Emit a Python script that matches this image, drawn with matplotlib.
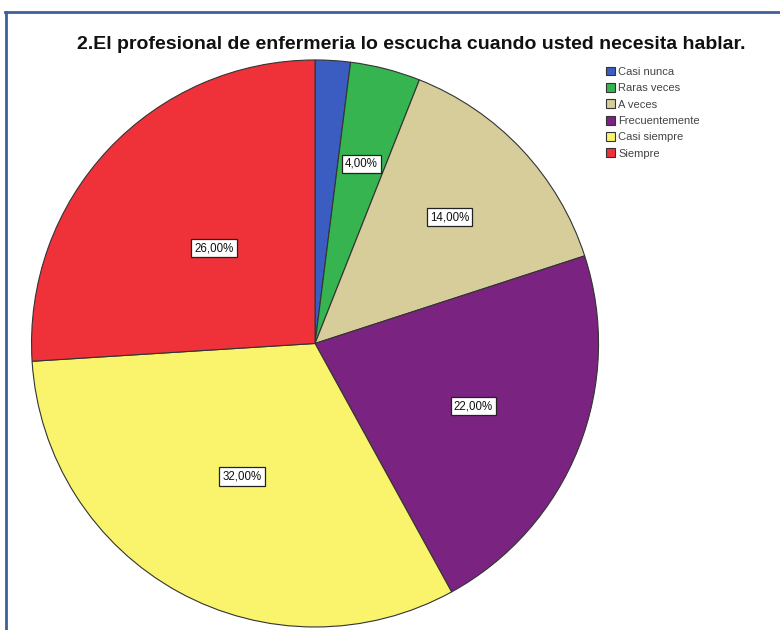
import matplotlib
matplotlib.use("Agg")
import numpy as np
import matplotlib.pyplot as plt
from matplotlib.lines import Line2D

plt.rcParams['font.family'] = ['Liberation Sans', 'DejaVu Sans']

categorias = ['Casi nunca', 'Raras veces', 'A veces', 'Frecuentemente', 'Casi siempre', 'Siempre']
porcentajes = [2, 4, 14, 22, 32, 26]
colores = ['#3b5cc0', '#35b44f', '#d6cd9a', '#7b2380', '#f9f46c', '#ef3139']
titulo = '2.El profesional de enfermeria lo escucha cuando usted necesita hablar.'

# radial position of each percentage box (fraction of the radius)
dist_etiqueta = [0.65, 0.655, 0.65, 0.60, 0.535, 0.49]


def etiqueta(p):
    # the smallest slice stays without a label
    if p < 3:
        return ''
    return f'{p:.2f}%'.replace('.', ',')


fig = plt.figure(figsize=(7.8, 6.3), dpi=100)
fig.patch.set_facecolor('white')

ax = fig.add_axes([0.0404, 0.0048, 0.727, 0.9])
wedges, textos, autotextos = ax.pie(
    porcentajes, colors=colores, startangle=90, counterclock=False,
    autopct=etiqueta, pctdistance=0.6,
    wedgeprops=dict(edgecolor='#333333', linewidth=0.8),
    textprops=dict(fontsize=8.3, color='#111111'))
for w, t, d in zip(wedges, autotextos, dist_etiqueta):
    ang = np.deg2rad((w.theta1 + w.theta2) / 2)
    t.set_position((d * np.cos(ang), d * np.sin(ang)))
    t.set_bbox(dict(facecolor='white', edgecolor='#222222', linewidth=0.9, pad=2.2))
ax.set_aspect('equal')
ax.set_xlim(-1.0, 1.0)
ax.set_ylim(-1.0, 1.0)

fig.text(0.527, 0.929, titulo, ha='center', va='center',
         fontsize=14, fontweight='bold', color='#111111')

fig.legend(wedges, categorias, loc='upper left', bbox_to_anchor=(0.768, 0.905),
           frameon=False, fontsize=8, handlelength=0.85, handleheight=0.85,
           handletextpad=0.3, labelspacing=0.55, borderpad=0.1,
           labelcolor='#444444')

# border lines along the top and left edges
fig.add_artist(Line2D([0.006, 1.0], [0.981, 0.981], transform=fig.transFigure,
                      color='#3d5f9e', linewidth=2))
fig.add_artist(Line2D([0.008, 0.008], [0.0, 0.981], transform=fig.transFigure,
                      color='#3d5f9e', linewidth=2))

fig.savefig('out.png', dpi=100)
